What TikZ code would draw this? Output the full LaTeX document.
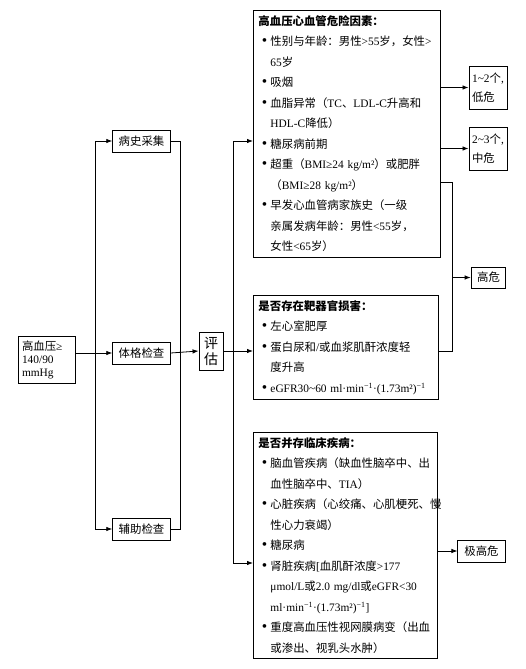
\documentclass[tikz,border=0pt]{standalone}
\usepackage{fontspec}
\setmainfont{Liberation Serif}
\newfontfamily\cjk{Noto Sans CJK SC}
\usetikzlibrary{arrows.meta,positioning,calc}

% Chinese characters switch to the CJK font by themselves
\XeTeXinterchartokenstate=1
\newXeTeXintercharclass\cjkcls
\newcount\cjkc
\newcommand\cjkrange[2]{\cjkc=#1 \loop\XeTeXcharclass\cjkc=\cjkcls
  \ifnum\cjkc<#2 \advance\cjkc by 1 \repeat}
\cjkrange{"3000}{"303F}
\cjkrange{"4E00}{"9FFF}
\cjkrange{"FF00}{"FF60}
\XeTeXinterchartoks 0 \cjkcls = {\cjk}
\XeTeXinterchartoks 4095 \cjkcls = {\cjk}
\XeTeXinterchartoks \cjkcls 0 = {\rmfamily}
\XeTeXinterchartoks \cjkcls 4095 = {\rmfamily}

\newcommand\itm[1]{\par\noindent\hangindent=12pt\hangafter=1%
  \makebox[12pt][c]{\scalebox{1.35}{\textbullet}}#1\par}
\newcommand\inv{\textsuperscript{−1}}

\begin{document}
\begin{tikzpicture}[
    x=1pt, y=-1pt,
    font=\fontsize{11.4}{20.5}\selectfont,
    line width=0.8pt,
    box/.style={draw, line width=0.9pt, minimum height=22pt, inner xsep=6pt, inner ysep=2pt},
    bigbox/.style={draw, line width=0.9pt, anchor=north west, inner sep=5pt, align=left},
    arr/.style={-{Latex[length=6pt,width=4.5pt]}}
  ]
    \useasboundingbox (0,0) rectangle (526,669);

    % left part
    \node[box, align=left, text width=49pt, minimum width=57pt, minimum height=47pt,
      inner xsep=4pt, font=\fontsize{11.4}{13}\selectfont] (start) at (46.5,359.5)
      {高血压≥\\140/90\\mmHg};
    \node[box] (hist) at (141.5,141) {病史采集};
    \node[box] (exam) at (141.5,353) {体格检查};
    \node[box] (aux) at (141.5,529) {辅助检查};
    \node[box, align=center, minimum width=24pt, minimum height=38pt, inner xsep=2pt,
      font=\fontsize{14}{16}\selectfont] (eval) at (211,351) {评\\估};

    % assessment boxes
    \node[bigbox, text width=177pt] (risk) at (253,10) {%
      \textbf{高血压心血管危险因素：}
      \itm{性别与年龄：男性>55岁，女性>\newline 65岁}
      \itm{吸烟}
      \itm{血脂异常（TC、LDL-C升高和\newline HDL-C降低）}
      \itm{糖尿病前期}
      \itm{超重（BMI≥24 kg/m²）或肥胖\newline （BMI≥28 kg/m²）}
      \itm{早发心血管病家族史（一级\newline 亲属发病年龄：男性<55岁，\newline 女性<65岁）}};
    \node[bigbox, text width=175pt] (organ) at (253,295) {%
      \textbf{是否存在靶器官损害：}
      \itm{左心室肥厚}
      \itm{蛋白尿和/或血浆肌酐浓度轻\newline 度升高}
      \itm{eGFR30\textasciitilde60 ml·min\inv·(1.73m²)\inv}};
    \node[bigbox, text width=174pt] (clin) at (253,432) {%
      \textbf{是否并存临床疾病：}
      \itm{脑血管疾病（缺血性脑卒中、出\newline 血性脑卒中、TIA）}
      \itm{心脏疾病（心绞痛、心肌梗死、慢\newline 性心力衰竭）}
      \itm{糖尿病}
      \itm{肾脏疾病[血肌酐浓度>177\newline μmol/L或2.0 mg/dl或eGFR<30\newline ml·min\inv·(1.73m²)\inv]}
      \itm{重度高血压性视网膜病变（出血\newline 或渗出、视乳头水肿）}};

    % risk levels
    \node[box, align=left, minimum width=38pt, minimum height=43pt, inner xsep=3pt,
      font=\fontsize{11.4}{19}\selectfont] (low) at (488,87.5) {1\textasciitilde2个,\\低危};
    \node[box, align=left, minimum width=38pt, minimum height=43pt, inner xsep=3pt,
      font=\fontsize{11.4}{19}\selectfont] (mid) at (488,148.5) {2\textasciitilde3个,\\中危};
    \node[box, minimum height=21pt] (high) at (488.5,277.5) {高危};
    \node[box, inner xsep=6.5pt] (xhigh) at (481.5,551) {极高危};

    \coordinate (lb) at (95,0);
    \coordinate (rb) at (180,0);
    \coordinate (eb) at (233,563);
    \coordinate (hj) at (452,0);

    \draw[arr] (start.east |- exam.west) -- (exam.west);
    \draw[arr] (lb |- aux.west) |- (hist.west);
    \draw[arr] (lb |- aux.west) -- (aux.west);
    \draw (hist.east) -| (rb |- aux.east) -- (aux.east);
    \draw[arr] (exam.east) -- (eval.west);
    \draw[arr] (eb) |- (risk.west |- hist.east);
    \draw[arr] (eb) -- (clin.west |- eb);
    \draw[arr] (eval.east) -- (organ.west |- eval.east);
    \draw[arr] (risk.east |- low.west) -- (low.west);
    \draw[arr] (risk.east |- mid.west) -- (mid.west);
    \draw[arr] (risk.east |- 0,182) -| (hj |- high.west) -- (high.west);
    \draw (organ.east |- eval.east) -| (hj |- high.west);
    \draw[arr] (clin.east |- xhigh.west) -- (xhigh.west);
  \end{tikzpicture}
\end{document}
